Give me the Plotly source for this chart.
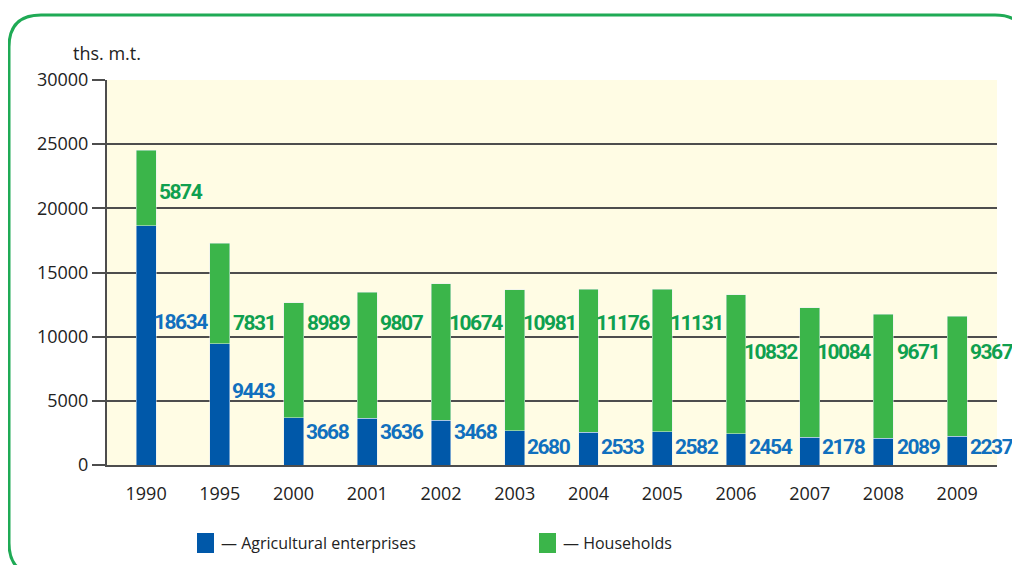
import plotly.graph_objects as go

# data (thousand metric tons)
years = ["1990", "1995", "2000", "2001", "2002", "2003",
         "2004", "2005", "2006", "2007", "2008", "2009"]
agri_enterprises = [18634, 9443, 3668, 3636, 3468, 2680,
                    2533, 2582, 2454, 2178, 2089, 2237]
households = [5874, 7831, 8989, 9807, 10674, 10981,
              11176, 11131, 10832, 10084, 9671, 9367]

y_ticks = [0, 5000, 10000, 15000, 20000, 25000, 30000]

# heights at which the value labels sit (layout only)
blue_label_y = [11150, 5800, 2570, 2570, 2570, 1400,
                1400, 1400, 1400, 1400, 1400, 1400]
green_label_y = [21300, 11100, 11100, 11100, 11100, 11100,
                 11100, 11100, 8800, 8800, 8800, 8800]

BLUE = "#0058A9"
BLUE_TXT = "#1170BE"
GREEN = "#3BB54A"
GREEN_TXT = "#0FA04F"
BORDER = "#1FAA55"
GRID = "#4D4D4D"

# the page has an 8px body margin, so work in screen pixels and shift
OFF = 8
W, H = 1020, 565
L, R, T, B = 107 - OFF, W - (997 - OFF), 80 - OFF, H - (465 - OFF)
PW, PH = W - L - R, H - T - B

NUM_FONT = dict(family="Roboto, sans-serif", size=21, color=BLUE_TXT)
TXT_FONT = "Open Sans, Noto Sans, sans-serif"


def px_x(x):
    return (x - OFF - L) / PW


def px_y(y):
    return (T + PH - (y - OFF)) / PH


def num(v):
    return f'<span style="letter-spacing:-1.5px"><b>{v}</b></span>'


xs = list(range(len(years)))

fig = go.Figure()
fig.add_trace(go.Bar(x=xs, y=agri_enterprises, marker_color=BLUE,
                     width=0.27, name="Agricultural enterprises"))
fig.add_trace(go.Bar(x=xs, y=households, marker_color=GREEN,
                     width=0.27, name="Households"))

# value labels sit in the gap to the right of each bar
for i in xs:
    fig.add_annotation(x=i + 0.47, y=blue_label_y[i], text=num(agri_enterprises[i]),
                       showarrow=False, xanchor="center", yanchor="middle",
                       font=NUM_FONT)
    fig.add_annotation(x=i + 0.47, y=green_label_y[i], text=num(households[i]),
                       showarrow=False, xanchor="center", yanchor="middle",
                       font=dict(NUM_FONT, color=GREEN_TXT))

fig.add_annotation(xref="paper", yref="paper", x=px_x(71), y=px_y(53),
                   text="ths. m.t.", showarrow=False, xanchor="left",
                   yanchor="middle", font=dict(family=TXT_FONT, size=18, color="#222"))

# hand-drawn legend at the bottom
legend_items = [(197, "— Agricultural enterprises", BLUE),
                (539, "— Households", GREEN)]
for x0, label, color in legend_items:
    fig.add_shape(type="rect", xref="paper", yref="paper",
                  x0=px_x(x0), x1=px_x(x0 + 17), y0=px_y(553), y1=px_y(533),
                  fillcolor=color, line_width=0)
    fig.add_annotation(xref="paper", yref="paper", x=px_x(x0 + 22), y=px_y(543),
                       text=label, showarrow=False, xanchor="left", yanchor="middle",
                       font=dict(family=TXT_FONT, size=16, color="#222"))

# rounded green frame around the whole chart
bl, bt, br, bb, rad = 9, 15, 1027, 575, 32
frame = (f"M {px_x(bl)},{px_y(bt + rad)} "
         f"Q {px_x(bl)},{px_y(bt)} {px_x(bl + rad)},{px_y(bt)} "
         f"L {px_x(br - rad)},{px_y(bt)} "
         f"Q {px_x(br)},{px_y(bt)} {px_x(br)},{px_y(bt + rad)} "
         f"L {px_x(br)},{px_y(bb - rad)} "
         f"Q {px_x(br)},{px_y(bb)} {px_x(br - rad)},{px_y(bb)} "
         f"L {px_x(bl + rad)},{px_y(bb)} "
         f"Q {px_x(bl)},{px_y(bb)} {px_x(bl)},{px_y(bb - rad)} Z")
fig.add_shape(type="path", xref="paper", yref="paper", path=frame,
              line=dict(color=BORDER, width=3), layer="below")

fig.update_layout(
    barmode="stack",
    width=W, height=H,
    margin=dict(l=L, r=R, t=T, b=B),
    paper_bgcolor="white",
    plot_bgcolor="#FFFCE4",
    showlegend=False,
    font=dict(family=TXT_FONT, size=18, color="#222"),
)
fig.update_xaxes(
    tickvals=xs, ticktext=years, range=[-0.53, 11.54],
    showgrid=False, showline=True, linecolor=GRID, linewidth=2,
    ticks="", ticklabelstandoff=11, tickfont=dict(size=18),
)
fig.update_yaxes(
    range=[0, 30000], tickvals=y_ticks, tickformat="d", showgrid=True,
    gridcolor=GRID, gridwidth=1.5, showline=True, linecolor=GRID, linewidth=2,
    ticks="outside", ticklen=13, tickcolor=GRID, tickwidth=1.5,
    zeroline=False, tickfont=dict(size=18),
)

fig.write_html("out.html")
